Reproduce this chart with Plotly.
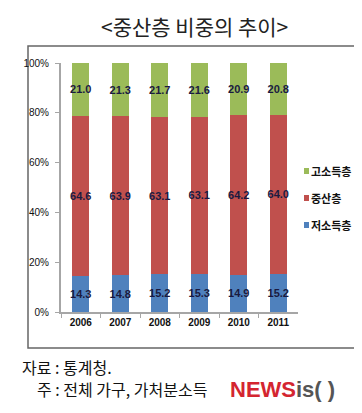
import plotly.graph_objects as go

years = ["2006", "2007", "2008", "2009", "2010", "2011"]
low = [14.3, 14.8, 15.2, 15.3, 14.9, 15.2]
mid = [64.6, 63.9, 63.1, 63.1, 64.2, 64.0]
high = [21.0, 21.3, 21.7, 21.6, 20.9, 20.8]
names = ["저소득층", "중산층", "고소득층"]
colors = ["#4F81BD", "#C0504D", "#9BBB59"]
yticks = [0, 20, 40, 60, 80, 100]
title = "<중산층 비중의 추이>"
note1 = "자료 : 통계청."
note2 = "주 : 전체 가구, 가처분소득"

W, H = 362, 413
L, R, T, B = 53, 290, 55, 304  # plot area in px

def fx(x):
    return x / W

def fy(y):
    return 1 - y / H

label_font = dict(family="Liberation Sans, Arial, sans-serif", size=11, color="#1a1a40")

fig = go.Figure()
for vals, name, col in zip([low, mid, high], names, colors):
    fig.add_trace(go.Bar(
        x=years, y=vals, name=name, marker=dict(color=col, line=dict(width=0)),
        text=[f"<b>{v:.1f}</b>" for v in vals], textposition="inside", insidetextanchor="middle",
        textfont=label_font, textangle=0, showlegend=False, cliponaxis=False,
        hoverinfo="skip",
    ))

shapes = [
    dict(type="rect", xref="paper", yref="paper",
         x0=fx(20), x1=fx(351), y0=fy(340), y1=fy(38),
         line=dict(color="#666", width=1.5), layer="below"),
]
annotations = [
    dict(text=title, xref="paper", yref="paper", x=fx(186), y=fy(18),
         xanchor="center", yanchor="middle", showarrow=False,
         font=dict(family="Noto Sans CJK KR", size=21, color="#222")),
    dict(text=note1, xref="paper", yref="paper", x=fx(12), y=fy(359),
         xanchor="left", yanchor="middle", showarrow=False,
         font=dict(family="Noto Sans CJK KR", size=16, color="#111")),
    dict(text=note2, xref="paper", yref="paper", x=fx(27), y=fy(381),
         xanchor="left", yanchor="middle", showarrow=False,
         font=dict(family="Noto Sans CJK KR", size=16, color="#111")),
    dict(text="<b><span style='color:#d42530'>NEWS</span><span style='color:#555'>is( )</span></b>",
         xref="paper", yref="paper", x=fx(220), y=fy(381),
         xanchor="left", yanchor="middle", showarrow=False,
         font=dict(family="Liberation Sans, Arial, sans-serif", size=22)),
]

# custom legend: top-to-bottom high, mid, low
leg_y = [163, 190, 217]
for yy, name, col in zip(leg_y, names[::-1], colors[::-1]):
    shapes.append(dict(type="rect", xref="paper", yref="paper",
                       x0=fx(296), x1=fx(301), y0=fy(yy + 3), y1=fy(yy - 3),
                       fillcolor=col, line=dict(width=0)))
    annotations.append(dict(text=f"<b>{name}</b>", xref="paper", yref="paper",
                            x=fx(301), y=fy(yy), xanchor="left", yanchor="middle",
                            showarrow=False,
                            font=dict(family="Noto Sans CJK KR", size=11, color="#111")))

fig.update_layout(
    width=W, height=H,
    margin=dict(l=0, r=0, t=0, b=0, pad=0),
    barmode="stack", bargap=0.57,
    uniformtext=dict(minsize=11, mode="show"),
    plot_bgcolor="white", paper_bgcolor="white",
    showlegend=False,
    xaxis=dict(type="category", domain=[fx(L), fx(R)], automargin=False,
               showline=True, linecolor="#a6a6a6", linewidth=2,
               ticks="outside", tickson="boundaries", ticklen=4, tickcolor="#a6a6a6",
               tickfont=dict(family="Liberation Sans, Arial, sans-serif", size=10, color="#111", weight="bold"),
               showgrid=False, zeroline=False, fixedrange=True),
    yaxis=dict(range=[0, 100], domain=[fy(B), fy(T)], automargin=False,
               tickvals=yticks, ticktext=[f"{v}%" for v in yticks],
               showline=True, linecolor="#a6a6a6", linewidth=2,
               ticks="outside", ticklen=4, tickcolor="#a6a6a6", ticklabelstandoff=4,
               tickfont=dict(family="Liberation Sans, Arial, sans-serif", size=10, color="#111"),
               showgrid=False, zeroline=False, fixedrange=True),
    shapes=shapes,
    annotations=annotations,
)

fig.write_html("out.html")
